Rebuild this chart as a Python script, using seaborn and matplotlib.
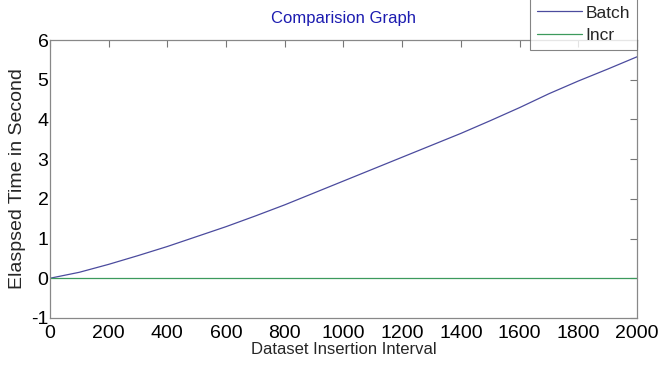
import numpy as np
import pandas as pd
import seaborn as sns
import matplotlib.pyplot as plt

# values
interval = [0, 100, 200, 300, 400, 500, 600, 700, 800, 900, 1000,
            1100, 1200, 1300, 1400, 1500, 1600, 1700, 1800, 1900, 2000]
batch = [0.0, 0.15, 0.35, 0.57, 0.8, 1.05, 1.3, 1.57, 1.85, 2.15, 2.45,
         2.75, 3.05, 3.35, 3.65, 3.97, 4.3, 4.65, 4.97, 5.27, 5.58]
incr = [0.0] * len(interval)
series_names = ['Batch', 'Incr']

df = pd.DataFrame({
    'interval': interval * 2,
    'time': batch + incr,
    'serie': [series_names[0]] * len(interval) + [series_names[1]] * len(interval),
})

sns.set_style('white')
plt.rcParams['font.family'] = ['Liberation Sans', 'DejaVu Sans']
plt.rcParams['axes.unicode_minus'] = False

fig = plt.figure(figsize=(6.65, 3.68), dpi=100)
ax = fig.add_axes([0.075, 0.136, 0.883, 0.755])

sns.lineplot(data=df, x='interval', y='time', hue='serie',
             palette=['#4b4b9e', '#3c9a5c'], linewidth=0.9, ax=ax)

ax.set_xlim(0, 2000)
ax.set_ylim(-1, 6)
ax.set_xticks(range(0, 2001, 200))
ax.set_yticks(range(-1, 7))

# matlab style ticks pointing inward
ax.tick_params(direction='in', length=5, width=0.8, colors='#777777',
               labelcolor='black', labelsize=14, top=True, right=True,
               pad=1)
ax.tick_params(axis='x', pad=5)
for s in ax.spines.values():
    s.set_color('#888888')
    s.set_linewidth(0.9)

ax.set_title('Comparision Graph', color='#1c1cb0', fontsize=12, pad=12)
ax.set_xlabel('Dataset Insertion Interval', fontsize=12, labelpad=0)
ax.set_ylabel('Elaspsed Time in Second', fontsize=14, labelpad=4)

leg = ax.legend(loc='upper right', bbox_to_anchor=(1.0, 1.15),
                borderaxespad=0, fontsize=12.5, frameon=True, fancybox=False,
                handlelength=2.6, borderpad=0.4, labelspacing=0.45,
                handletextpad=0.2)
leg.get_frame().set_edgecolor('#666666')
leg.get_frame().set_linewidth(0.8)

fig.savefig('out.png', dpi=100)
